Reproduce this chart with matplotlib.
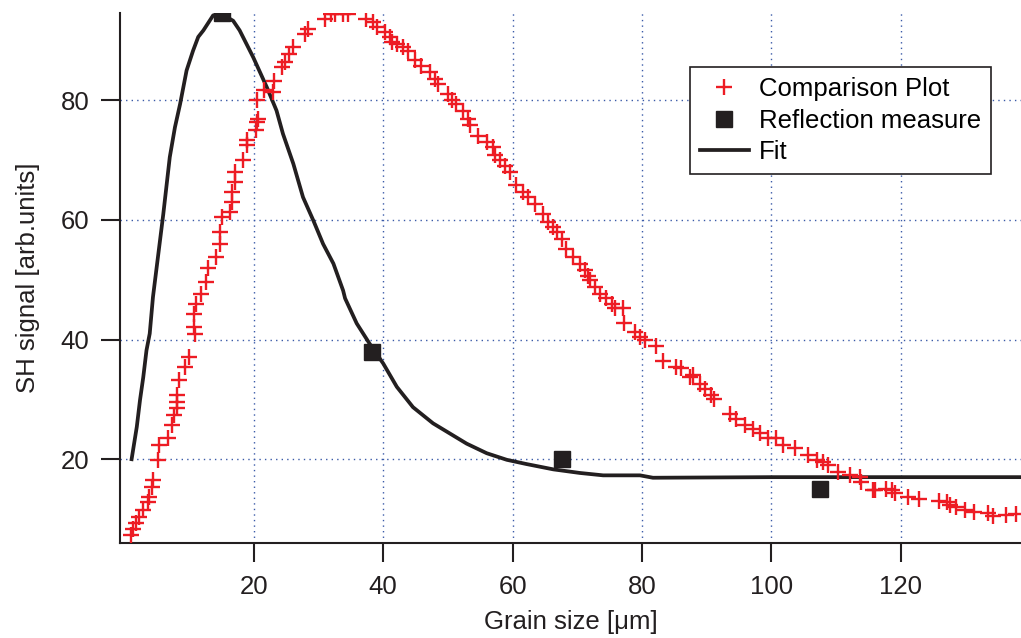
import matplotlib
matplotlib.use("Agg")
import matplotlib.pyplot as plt

plt.rcParams['font.family'] = ['Liberation Sans', 'DejaVu Sans']

# comparison data (red crosses)
comp_x = [1.0, 1.35, 1.76, 2.27, 2.9, 3.6, 3.8, 4.3, 4.4, 5.2, 5.4, 6.8, 7.3, 7.6, 8.05,
          8.05, 8.05, 8.5, 9.3, 10.0, 10.9, 10.7, 10.7, 11.1, 11.9, 12.6, 12.9, 14.2, 14.7,
          14.7, 15.0, 16.3, 16.55, 16.55, 17.1, 17.1, 18.25, 18.9, 19.0, 20.3, 20.5, 20.7,
          20.5, 21.6, 23.0, 23.1, 24.3, 24.8, 25.5, 26.1, 27.9, 28.4, 31.0, 32.0, 32.5, 33.8,
          34.6, 37.4, 38.4, 39.0, 40.2, 41.0, 41.3, 42.1, 43.1, 43.8, 44.9, 45.9, 47.2, 48.0,
          48.5, 50.0, 50.6, 51.3, 52.3, 53.1, 53.4, 54.7, 56.0, 57.0, 57.25, 58.0, 58.8, 59.6,
          60.6, 61.6, 62.4, 63.4, 64.7, 65.5, 66.3, 66.8, 67.6, 68.3, 69.4, 70.4, 71.2, 71.7,
          71.9, 72.7, 73.5, 74.5, 75.3, 75.8, 77.1, 77.3, 78.9, 79.7, 80.4, 82.2, 83.3, 85.3,
          86.1, 87.4, 87.9, 88.9, 89.7, 90.7, 91.2, 93.6, 94.6, 95.9, 97.2, 98.2, 99.5, 100.8,
          101.8, 103.6, 105.7, 107.0, 108.0, 108.8, 110.3, 112.1, 113.7, 113.9, 115.7, 116.0,
          117.8, 118.6, 119.1, 121.1, 122.9, 126.0, 127.1, 127.6, 128.6, 129.9, 131.4, 133.5,
          134.3, 136.3, 137.9]
comp_y = [7.3, 8.4, 9.3, 10.4, 11.5, 12.9, 13.7, 15.4, 16.5, 19.8, 22.3, 23.5, 25.7, 27.4, 28.5,
          29.6, 30.7, 33.2, 35.4, 37.1, 41.0, 42.1, 44.3, 46.0, 47.7, 49.6, 51.9, 53.8, 56.0,
          58.0, 60.5, 61.3, 63.0, 64.7, 66.3, 68.0, 70.1, 72.5, 73.3, 75.0, 76.4, 76.9,
          80.0, 81.8, 81.4, 83.3, 85.5, 86.4, 87.8, 88.9, 91.1, 92.0, 93.6, 94.4, 94.5, 94.4,
          94.4, 93.6, 93.1, 92.2, 91.4, 90.6, 89.7, 89.5, 88.9, 88.3, 86.7, 85.8, 84.7, 83.6,
          82.8, 81.1, 80.0, 79.4, 78.3, 76.9, 75.8, 74.1, 73.0, 72.2, 70.8, 70.0, 69.1, 68.0,
          65.8, 64.7, 63.8, 62.7, 61.0, 59.6, 58.8, 58.0, 56.9, 55.2, 53.8, 52.7, 51.6, 50.7,
          49.9, 48.8, 47.7, 46.9, 46.0, 45.2, 45.2, 42.7, 41.3, 40.4, 39.9, 39.0, 36.5, 35.4,
          35.2, 33.8, 34.0, 32.6, 31.8, 30.7, 30.1, 27.6, 26.8, 25.7, 25.1, 24.3, 23.5, 23.5,
          22.3, 21.8, 20.7, 19.8, 19.5, 19.0, 17.9, 17.3, 17.0, 16.2, 14.8, 14.8,
          15.1, 14.8, 14.3, 13.7, 13.4, 13.0, 12.9, 12.3, 12.0, 11.5, 11.2, 11.0,
          10.5, 10.6, 10.9]

# reflection measurements (black squares)
refl_x = [15.0, 38.3, 67.6, 107.6]
refl_y = [94.6, 37.9, 20.0, 15.0]

# fit curve
fit_x = [1.1, 1.9, 2.4, 2.9, 3.4, 3.9, 4.4, 6.0, 7.0, 7.8, 8.6, 9.6, 10.6, 11.4, 12.2, 13.7,
         14.9, 16.8, 17.8, 19.9, 22.0, 23.5, 24.5, 26.1, 27.6, 29.2, 30.7, 32.3, 33.8, 34.1,
         35.9, 37.9, 40.0, 42.1, 44.6, 47.7, 50.3, 52.9, 56.0, 59.1, 62.1, 66.3, 70.4, 74.0,
         79.7, 81.7, 100.0, 120.0, 139.0]
fit_y = [20.0, 25.4, 29.9, 33.7, 38.2, 41.0, 47.1, 61.0, 70.5, 75.5, 79.4, 85.0, 88.3, 90.6,
         91.7, 94.2, 94.5, 93.3, 91.7, 87.2, 82.2, 78.3, 74.4, 69.4, 63.8, 59.9, 56.0, 52.7,
         48.2, 46.9, 42.7, 39.3, 36.0, 32.1, 28.7, 26.0, 24.3, 22.6, 21.0, 19.9, 19.2, 18.3,
         17.7, 17.3, 17.3, 16.9, 17.0, 17.0, 17.0]

x_ticks = [20, 40, 60, 80, 100, 120]
y_ticks = [20, 40, 60, 80]

ink = '#231f20'
red = '#ed1c24'
fs = 18.5

fig = plt.figure(figsize=(10.21, 6.38), dpi=100)
ax = fig.add_axes([0.1175, 0.149, 0.8825, 0.8306])

ax.plot(fit_x, fit_y, color=ink, lw=2.7, zorder=2, label='Fit', solid_joinstyle='round')
ax.plot(comp_x, comp_y, ls='none', marker='+', ms=11, mew=1.7, color=red, zorder=3,
        label='Comparison Plot')
ax.plot(refl_x, refl_y, ls='none', marker='s', ms=11, color=ink, zorder=4,
        label='Reflection measure')

ax.set_xlim(-0.7, 138.6)
ax.set_ylim(6.0, 94.6)
ax.set_xticks(x_ticks)
ax.set_yticks(y_ticks)

ax.grid(True, color='#3a5aa8', ls=(0, (1, 3)), lw=1.0)
ax.set_axisbelow(True)

for s in ['top', 'right']:
    ax.spines[s].set_visible(False)
for s in ['left', 'bottom']:
    ax.spines[s].set_linewidth(1.5)
    ax.spines[s].set_color(ink)

ax.tick_params(direction='out', length=14, width=1.5, color=ink, labelsize=fs,
               labelcolor=ink)
ax.tick_params(axis='x', pad=9)
ax.tick_params(axis='y', pad=8)

ax.set_xlabel('Grain size [μm]', fontsize=fs, color=ink, labelpad=8)
ax.set_ylabel('SH signal [arb.units]', fontsize=fs, color=ink, labelpad=15)

h, l = ax.get_legend_handles_labels()
order = [1, 2, 0]
leg = ax.legend([h[i] for i in order], [l[i] for i in order], loc='upper left',
                bbox_to_anchor=(0.633, 0.898), fontsize=fs, frameon=True, fancybox=False,
                edgecolor=ink, framealpha=1, borderpad=0.38, labelspacing=0.3,
                handlelength=1.9, handletextpad=0.4, borderaxespad=0)
leg.get_frame().set_linewidth(1.2)

fig.savefig('out.png', dpi=100)
